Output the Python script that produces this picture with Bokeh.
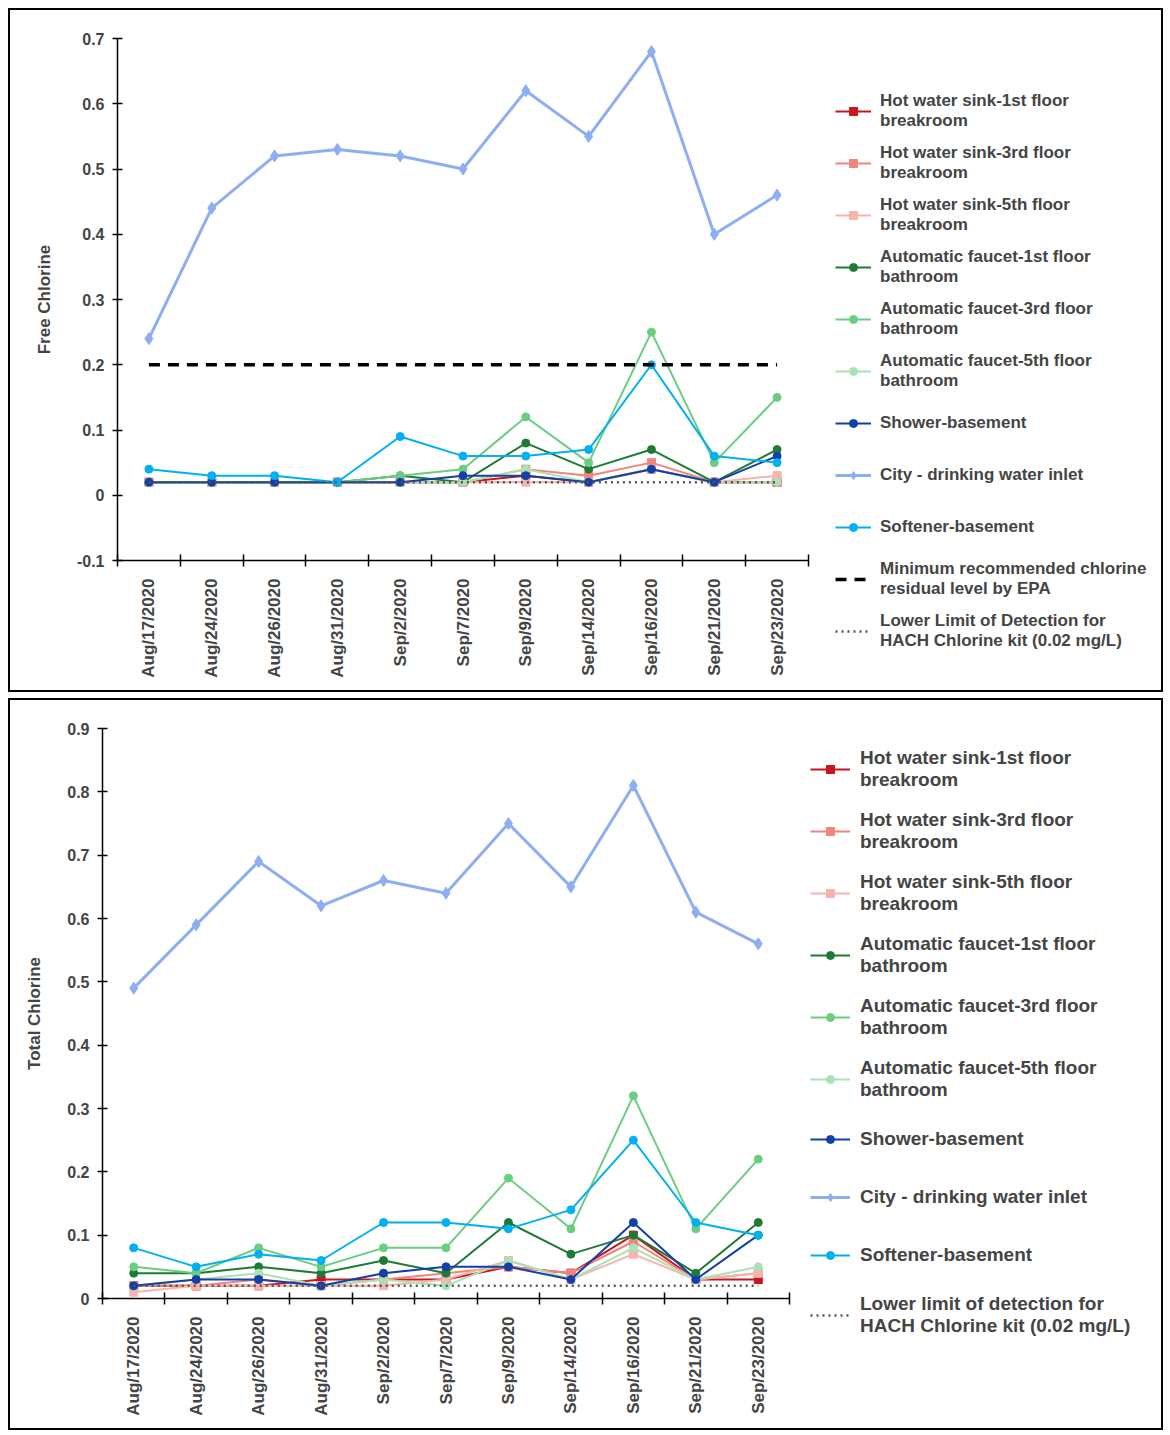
import numpy as np
from bokeh.plotting import figure
from bokeh.models import (Range1d, LinearAxis, FixedTicker, Legend, LegendItem)
from bokeh.layouts import column, row
from bokeh.embed import file_html
from bokeh.resources import INLINE

FONT = "Liberation Sans"

dates = ["Aug/17/2020", "Aug/24/2020", "Aug/26/2020", "Aug/31/2020", "Sep/2/2020",
         "Sep/7/2020", "Sep/9/2020", "Sep/14/2020", "Sep/16/2020", "Sep/21/2020",
         "Sep/23/2020"]

# ---- Free chlorine ----
hot1_free = [0.02, 0.02, 0.02, 0.02, 0.02, 0.02, 0.03, 0.02, 0.04, 0.02, 0.02]
hot3_free = [0.02, 0.02, 0.02, 0.02, 0.02, 0.02, 0.04, 0.03, 0.05, 0.02, 0.02]
hot5_free = [0.02, 0.02, 0.02, 0.02, 0.02, 0.02, 0.02, 0.02, 0.04, 0.02, 0.03]
auto1_free = [0.02, 0.02, 0.02, 0.02, 0.03, 0.02, 0.08, 0.04, 0.07, 0.02, 0.07]
auto3_free = [0.02, 0.02, 0.02, 0.02, 0.03, 0.04, 0.12, 0.05, 0.25, 0.05, 0.15]
auto5_free = [0.02, 0.02, 0.02, 0.02, 0.02, 0.02, 0.04, 0.02, 0.04, 0.02, 0.02]
shower_free = [0.02, 0.02, 0.02, 0.02, 0.02, 0.03, 0.03, 0.02, 0.04, 0.02, 0.06]
city_free = [0.24, 0.44, 0.52, 0.53, 0.52, 0.50, 0.62, 0.55, 0.68, 0.40, 0.46]
soft_free = [0.04, 0.03, 0.03, 0.02, 0.09, 0.06, 0.06, 0.07, 0.20, 0.06, 0.05]

# ---- Total chlorine ----
hot1_total = [0.02, 0.02, 0.02, 0.03, 0.03, 0.03, 0.05, 0.04, 0.10, 0.03, 0.03]
hot3_total = [0.02, 0.02, 0.03, 0.02, 0.03, 0.04, 0.05, 0.04, 0.09, 0.03, 0.04]
hot5_total = [0.01, 0.02, 0.02, 0.02, 0.02, 0.03, 0.06, 0.03, 0.07, 0.03, 0.04]
auto1_total = [0.04, 0.04, 0.05, 0.04, 0.06, 0.04, 0.12, 0.07, 0.10, 0.04, 0.12]
auto3_total = [0.05, 0.04, 0.08, 0.05, 0.08, 0.08, 0.19, 0.11, 0.32, 0.11, 0.22]
auto5_total = [0.02, 0.03, 0.04, 0.02, 0.03, 0.02, 0.06, 0.03, 0.08, 0.03, 0.05]
shower_total = [0.02, 0.03, 0.03, 0.02, 0.04, 0.05, 0.05, 0.03, 0.12, 0.03, 0.10]
city_total = [0.49, 0.59, 0.69, 0.62, 0.66, 0.64, 0.75, 0.65, 0.81, 0.61, 0.56]
soft_total = [0.08, 0.05, 0.07, 0.06, 0.12, 0.12, 0.11, 0.14, 0.25, 0.12, 0.10]

epa_level = [0.2] * len(dates)
detection_limit = [0.02] * len(dates)

free_ticks = [-0.1, 0.0, 0.1, 0.2, 0.3, 0.4, 0.5, 0.6, 0.7]
free_tick_labels = ["-0.1", "0", "0.1", "0.2", "0.3", "0.4", "0.5", "0.6", "0.7"]
total_ticks = [0.0, 0.1, 0.2, 0.3, 0.4, 0.5, 0.6, 0.7, 0.8, 0.9]
total_tick_labels = ["0", "0.1", "0.2", "0.3", "0.4", "0.5", "0.6", "0.7", "0.8", "0.9"]

labels = ["Hot water sink-1st floor\nbreakroom",
          "Hot water sink-3rd floor\nbreakroom",
          "Hot water sink-5th floor\nbreakroom",
          "Automatic faucet-1st floor\nbathroom",
          "Automatic faucet-3rd floor\nbathroom",
          "Automatic faucet-5th floor\nbathroom",
          "Shower-basement",
          "City - drinking water inlet",
          "Softener-basement"]
colors = ["#C8161D", "#F2847C", "#F7B3AD", "#1E7B34", "#6ACD80", "#A9E2B6",
          "#123FA8", "#8EAEF2", "#00B0F0"]
markers = ["square", "square", "square", "circle", "circle", "circle",
           "circle", "diamond", "circle"]

free_series = [hot1_free, hot3_free, hot5_free, auto1_free, auto3_free, auto5_free,
               shower_free, city_free, soft_free]
total_series = [hot1_total, hot3_total, hot5_total, auto1_total, auto3_total,
                auto5_total, shower_total, city_total, soft_total]

# category slots: each date occupies one unit; marks sit at slot centres
n = len(dates)
xcat = [i + 0.5 for i in range(n)]
xbounds = list(range(n + 1))

B = "2px solid black"


def make_chart(series, ticks, tick_labels, ylabel, width, height, ml, mr, epa):
    p = figure(width=width, height=height,
               x_range=Range1d(0, n),
               y_range=Range1d(ticks[0], ticks[-1]),
               x_axis_location=None, y_axis_location=None,
               output_backend="svg", toolbar_location=None,
               min_border_left=ml, min_border_right=mr,
               min_border_top=28, min_border_bottom=134)
    p.outline_line_color = None
    p.xgrid.visible = False
    p.ygrid.visible = False
    p.background_fill_color = "white"
    p.border_fill_color = "white"
    p.styles = {"border-top": B, "border-left": B, "border-bottom": B}

    yaxis = LinearAxis(ticker=FixedTicker(ticks=ticks),
                       major_label_overrides={t: l for t, l in zip(ticks, tick_labels)},
                       axis_label=ylabel)
    yaxis.axis_label_text_font = FONT
    yaxis.axis_label_text_font_style = "bold"
    yaxis.axis_label_text_font_size = "17px"
    yaxis.axis_label_standoff = 20
    yaxis.major_label_text_font = FONT
    yaxis.major_label_text_font_style = "bold"
    yaxis.major_label_text_font_size = "16px"
    yaxis.major_label_standoff = 8
    yaxis.major_tick_in = 5
    yaxis.major_tick_out = 5
    yaxis.minor_tick_line_color = None
    yaxis.axis_line_width = 1.5
    yaxis.major_tick_line_width = 1.5
    p.add_layout(yaxis, "left")

    xaxis = LinearAxis(ticker=FixedTicker(ticks=xcat, minor_ticks=xbounds),
                       major_label_overrides={x: d for x, d in zip(xcat, dates)})
    xaxis.major_label_orientation = np.pi / 2
    xaxis.major_tick_line_color = None
    xaxis.minor_tick_in = 6
    xaxis.minor_tick_out = 6
    xaxis.minor_tick_line_color = "black"
    xaxis.minor_tick_line_width = 1.5
    xaxis.axis_line_width = 1.5
    xaxis.major_label_standoff = 12
    xaxis.major_label_text_font = FONT
    xaxis.major_label_text_font_style = "bold"
    xaxis.major_label_text_font_size = "17px"
    p.add_layout(xaxis, "below")

    for vals, col, mk in zip(series, colors, markers):
        lw = 3 if mk == "diamond" else 2
        sz = 12 if mk == "diamond" else 8
        p.line(xcat, vals, line_color=col, line_width=lw)
        p.scatter(xcat, vals, marker=mk, size=sz, fill_color=col, line_color=col)
    if epa:
        p.line(xcat, epa_level, line_color="black", line_width=3.5, line_dash="11 8")
    p.line(xcat, detection_limit, line_color="#555555", line_width=2.5, line_dash="2 4")
    return p


def make_legend(series, width, height, top, epa, det_label, font_size, line_h,
                spacing, glyph_w, standoff):
    # legend panel: the same series are attached here but kept outside its view
    q = figure(width=width, height=height,
               x_range=Range1d(100, 101), y_range=Range1d(100, 101),
               x_axis_location=None, y_axis_location=None,
               output_backend="svg", toolbar_location=None,
               min_border_left=5, min_border_right=0,
               min_border_top=top, min_border_bottom=0)
    q.outline_line_color = None
    q.xgrid.visible = False
    q.ygrid.visible = False
    q.background_fill_color = "white"
    q.border_fill_color = "white"
    q.styles = {"border-top": B, "border-right": B, "border-bottom": B}

    items = []
    for vals, lab, col, mk in zip(series, labels, colors, markers):
        lw = 3 if mk == "diamond" else 2
        sz = 12 if mk == "diamond" else 8
        r1 = q.line(xcat, vals, line_color=col, line_width=lw)
        r2 = q.scatter(xcat, vals, marker=mk, size=sz, fill_color=col, line_color=col)
        items.append(LegendItem(label=lab, renderers=[r1, r2]))
    if epa:
        r = q.line(xcat, epa_level, line_color="black", line_width=3.5, line_dash="11 8")
        items.append(LegendItem(label="Minimum recommended chlorine\nresidual level by EPA",
                                renderers=[r]))
    r = q.line(xcat, detection_limit, line_color="#555555", line_width=2.5, line_dash="2 4")
    items.append(LegendItem(label=det_label, renderers=[r]))

    legend = Legend(items=items, location="top_left")
    legend.label_text_font = FONT
    legend.label_text_font_style = "bold"
    legend.label_text_font_size = font_size
    legend.label_text_line_height = line_h
    legend.glyph_width = glyph_w
    legend.glyph_height = 20
    legend.label_height = 40
    legend.label_standoff = standoff
    legend.spacing = spacing
    legend.padding = 4
    legend.margin = 0
    legend.border_line_color = None
    legend.background_fill_alpha = 0
    q.add_layout(legend)
    return q


chart1 = make_chart(free_series, free_ticks, free_tick_labels, "Free Chlorine",
                    822, 684, 107, 24, True)
leg1 = make_legend(free_series, 333, 684, 81, True,
                   "Lower Limit of Detection for\nHACH Chlorine kit (0.02 mg/L)",
                   "17px", 1.18, 12, 36, 9)
chart2 = make_chart(total_series, total_ticks, total_tick_labels, "Total Chlorine",
                    797, 732, 92, 18, False)
leg2 = make_legend(total_series, 358, 732, 47, False,
                   "Lower limit of detection for\nHACH Chlorine kit (0.02 mg/L)",
                   "19px", 1.05, 18, 40, 10)

layout = column(row(column(chart1), column(leg1)),
                row(column(chart2), column(leg2)),
                spacing=6, margin=(8, 0, 0, 8))
open("out.html", "w").write(file_html(layout, INLINE))
